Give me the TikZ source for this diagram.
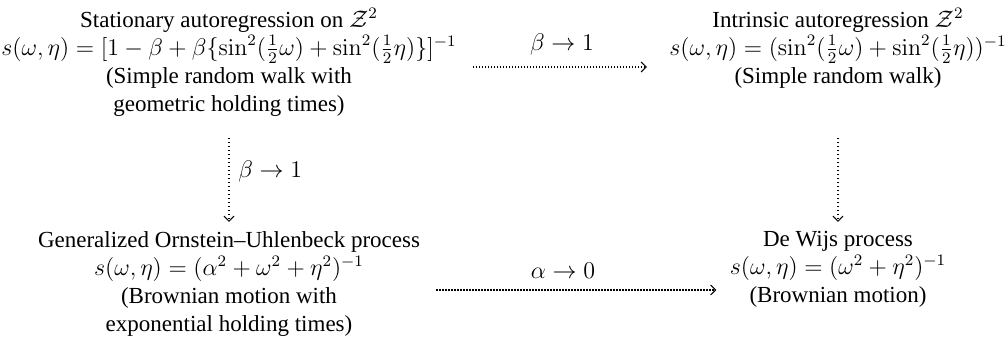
\documentclass[tikz,border=0pt]{standalone}
\usepackage[no-math]{fontspec}
\setmainfont{Liberation Serif}
\usetikzlibrary{arrows.meta}
\tikzset{
  box/.style={anchor=north, align=center, inner sep=0pt, font=\fontsize{11.5}{14}\selectfont},
  lbl/.style={inner sep=0pt, font=\fontsize{11.5}{14}\selectfont},
  arr/.style={line width=0.7pt, dash pattern=on 0.6pt off 0.9pt, -{Straight Barb[length=2.6pt,width=5pt,line width=0.5pt]}},
  varr/.style={arr, dash pattern=on 0.7pt off 1.3pt}
}
\begin{document}
\begin{tikzpicture}[x=0.5pt,y=-0.5pt]
\useasboundingbox (0,0) rectangle (1008,346);
\node[box] (TL) at (229,8) {Stationary autoregression on $\mathcal{Z}^2$\\
  $s(\omega,\eta)=[1-\beta+\beta\{\sin^2(\frac12\omega)+\sin^2(\frac12\eta)\}]^{-1}$\\
  (Simple random walk with\\ geometric holding times)};
\node[box] (TR) at (838,8) {Intrinsic autoregression $\mathcal{Z}^2$\\
  $s(\omega,\eta)=(\sin^2(\frac12\omega)+\sin^2(\frac12\eta))^{-1}$\\
  (Simple random walk)};
\node[box] (BL) at (229,231) {Generalized Ornstein--Uhlenbeck process\\
  $s(\omega,\eta)=(\alpha^2+\omega^2+\eta^2)^{-1}$\\
  (Brownian motion with\\ exponential holding times)};
\node[box] (BR) at (838,231) {De Wijs process\\
  $s(\omega,\eta)=(\omega^2+\eta^2)^{-1}$\\
  (Brownian motion)};
\draw[arr, shorten <=8pt, shorten >=11pt] (TL.east |- 0,67) -- (TR.west |- 0,67);
\draw[varr] (TL.south |- 0,138) -- (BL.north |- 0,222);
\draw[varr] (TR.south |- 0,138) -- (BR.north |- 0,222);
\draw[arr, shorten <=8pt, shorten >=6.5pt] (BL.east |- 0,290) -- (BR.west |- 0,290);
\node[lbl] (L1) at (562,45) {$\beta \rightarrow 1$};
\node[lbl, anchor=west] (L2) at (238,172) {$\beta \rightarrow 1$};
\node[lbl] (L3) at (563,271) {$\alpha \rightarrow 0$};
\end{tikzpicture}
\end{document}
